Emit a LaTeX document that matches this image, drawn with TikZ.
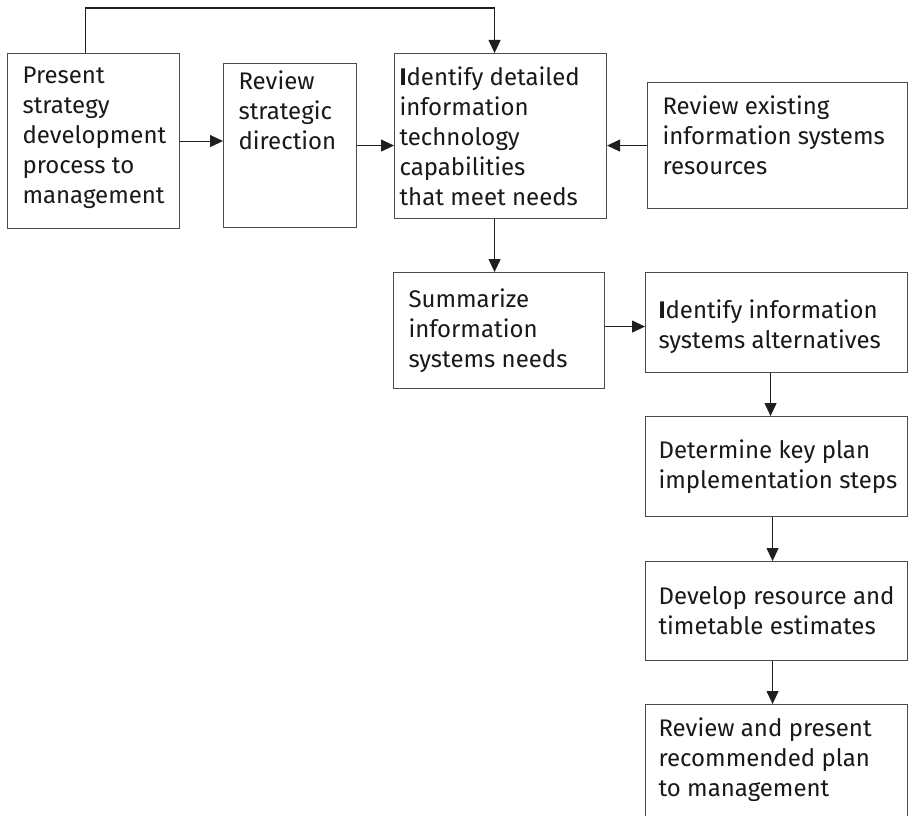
\documentclass[tikz,border=0pt]{standalone}
\usepackage{fontspec}
\setmainfont{Fira Sans}
\usetikzlibrary{arrows.meta}
\definecolor{boxc}{gray}{0.3}
\definecolor{arrc}{gray}{0.12}
\newcommand\txtlines[1]{\begin{tabular}{@{}l@{}}#1\end{tabular}}
\tikzset{
  box/.style={draw=boxc, line width=1.1pt, inner ysep=13pt, inner xsep=15pt, anchor=north west,
    font=\fontsize{24}{30}\selectfont, text=black!90},
  arr/.style={draw=arrc, line width=1.1pt, -{Triangle[length=13pt,width=12pt]}}
}
\begin{document}
\begin{tikzpicture}[x=1pt,y=-1pt]
\clip (0,0) rectangle (908,816);
\fill[white] (0,0) rectangle (908,816);
\node[box] (A) at (7,53) {\parbox[c][149pt][t]{142pt}{\raggedright Present\\strategy\\development\\process to\\management}};
\node[box, inner ysep=7pt] (B) at (223,63) {\parbox[c][150pt][t]{103pt}{\raggedright Review\\strategic\\direction}};
\node[box, inner xsep=5pt] (C) at (394,53) {\parbox[c][139pt][t]{202pt}{\raggedright \textbf{I}dentify detailed\\information\\technology\\capabilities\\that meet needs}};
\node[box] (D) at (647,82) {\parbox[c][100pt][t]{230pt}{\raggedright\mbox{Review existing}\\\mbox{information systems}\\resources}};
\node[box] (E) at (393,272) {\parbox[c][90pt][c]{181pt}{\raggedright Summarize\\information\\systems needs}};
\node[box, inner xsep=13pt] (F) at (645,272) {\parbox[c][74pt][c]{236pt}{\raggedright\vspace*{8pt}\mbox{\textbf{I}dentify information}\\\mbox{systems alternatives}}};
\node[box, inner xsep=13pt] (G) at (645,416) {\parbox[c][74pt][c]{236pt}{\raggedright\mbox{Determine key plan}\\\mbox{implementation steps}}};
\node[box, inner xsep=13pt] (H) at (645,561) {\parbox[c][73pt][c]{236pt}{\raggedright\mbox{Develop resource and}\\\mbox{timetable estimates}}};
\node[box, inner xsep=13pt] (I) at (645,704) {\parbox[c][104pt][t]{236pt}{\raggedright\mbox{Review and present}\\\mbox{recommended plan}\\\mbox{to management}}};

\draw[arr] (A.east) -- (A.east -| B.west);
\draw[arr] (B.east) -- (B.east -| C.west);
\draw[arr] (D.west) -- (D.west -| C.east);
\draw[arr] ([xshift=-8pt]A.north) -- ++(0,-45) -| ([xshift=-6pt]C.north);
\draw[arr] ([xshift=-6pt]C.south) -- ([xshift=-6pt]C.south |- E.north);
\draw[arr] ([yshift=4pt]E.east) -- ([yshift=4pt]E.east -| F.west);
\draw[arr] ([xshift=-6pt]F.south) -- ([xshift=-6pt]F.south |- G.north);
\draw[arr] ([xshift=-4pt]G.south) -- ([xshift=-4pt]G.south |- H.north);
\draw[arr] ([xshift=-4pt]H.south) -- ([xshift=-4pt]H.south |- I.north);
\end{tikzpicture}
\end{document}
